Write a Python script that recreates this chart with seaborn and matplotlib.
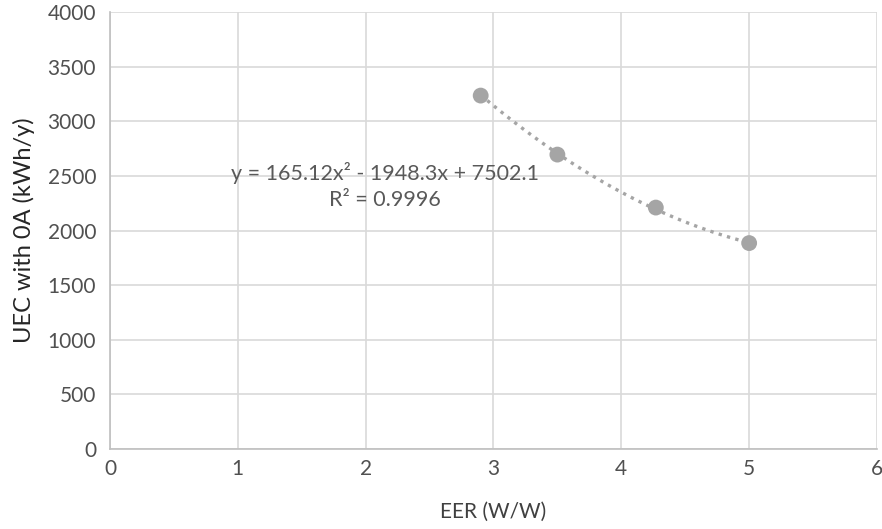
import numpy as np
import pandas as pd
import matplotlib
matplotlib.use("Agg")
import matplotlib.pyplot as plt
import seaborn as sns

# Data
eer = [2.9, 3.5, 4.27, 5.0]
uec = [3235, 2695, 2210, 1885]

# Excel polynomial trendline (order 2) as printed on the chart
trend_coef = [165.12, -1948.3, 7502.1]
eq_label = "y = 165.12x² - 1948.3x + 7502.1"
r2_label = "R² = 0.9996"

x_ticks = [0, 1, 2, 3, 4, 5, 6]
y_ticks = [0, 500, 1000, 1500, 2000, 2500, 3000, 3500, 4000]

df = pd.DataFrame({"EER": eer, "UEC": uec})

sns.set_style("white")
plt.rcParams["font.family"] = ["Lato", "DejaVu Sans"]

fig = plt.figure(figsize=(8.82, 5.29), dpi=100)
ax = fig.add_axes([0.1247, 0.1512, 0.8696, 0.8261])

# trendline
xs = np.linspace(min(eer), max(eer), 100)
ys = np.polyval(trend_coef, xs)
ax.plot(xs, ys, color="#a5a5a5", linestyle=(0, (1, 1.6)), linewidth=2.4, zorder=2)

sns.scatterplot(data=df, x="EER", y="UEC", ax=ax, color="#a5a5a5",
                s=130, edgecolor="none", zorder=3)

ax.text(2.15, 2530, eq_label, ha="center", va="center", fontsize=15.5, color="#595959")
ax.text(2.15, 2280, r2_label, ha="center", va="center", fontsize=15.5, color="#595959")

ax.set_xlim(0, 6)
ax.set_ylim(0, 4000)
ax.set_xticks(x_ticks)
ax.set_yticks(y_ticks)
ax.grid(True, color="#d9d9d9", linewidth=1.2)
ax.set_axisbelow(True)
ax.tick_params(axis="both", length=0, labelsize=15, labelcolor="#505050")
ax.tick_params(axis="x", pad=7)
ax.tick_params(axis="y", pad=10)

for s in ["top", "right"]:
    ax.spines[s].set_visible(False)
for s in ["left", "bottom"]:
    ax.spines[s].set_color("#bfbfbf")
    ax.spines[s].set_linewidth(1.2)

ax.set_xlabel("EER (W/W)", fontsize=15, color="#404040", labelpad=17)
ax.set_ylabel("UEC with 0A (kWh/y)", fontsize=17, color="#262626", labelpad=9)

fig.savefig("out.png", dpi=100)
